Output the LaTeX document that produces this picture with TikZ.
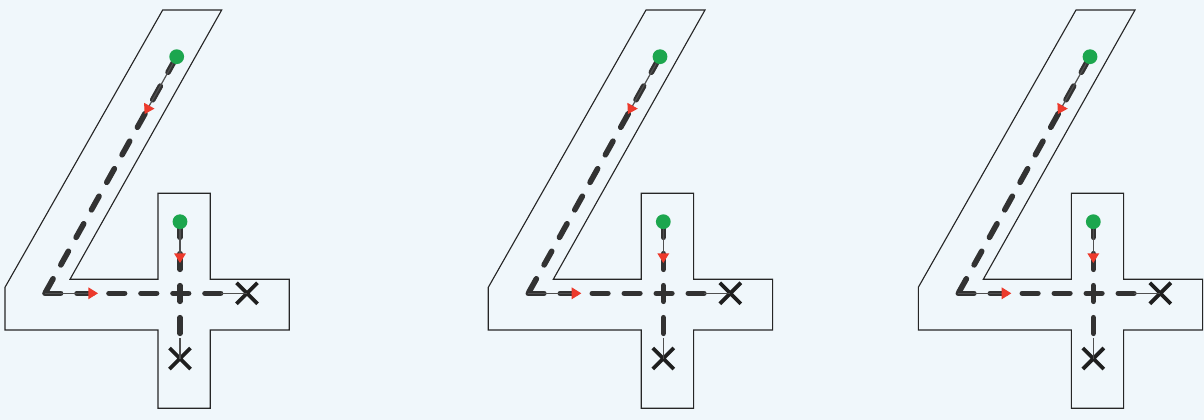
\documentclass[tikz,border=0pt]{standalone}
\usetikzlibrary{arrows.meta,shapes.misc}
\definecolor{bg}{RGB}{240,247,251}
\definecolor{dotgreen}{RGB}{28,166,78}
\definecolor{tipred}{RGB}{236,58,44}
\definecolor{dashgray}{RGB}{50,50,50}
\definecolor{leadgray}{RGB}{80,80,80}
\begin{document}
\begin{tikzpicture}[x=0.25mm,y=-0.25mm,
  outline/.style={draw=black!85, line width=0.28mm, line join=miter},
  trace/.style={draw=dashgray, line width=1.4mm, line cap=round,
                dash pattern=on 3.9mm off 4.1mm},
  slanttrace/.style={trace, dash pattern=on 3.9mm off 3.975mm, dash phase=7.625mm},
  lead/.style={draw=leadgray, line width=0.3mm,
               -{Triangle[length=2.4mm,width=2.9mm,color=tipred]}},
  tail/.style={draw=leadgray, line width=0.3mm},
  startdot/.style={circle, fill=dotgreen, inner sep=0pt, minimum size=3.7mm},
  endmark/.style={cross out, draw=black!88, line width=0.95mm, inner sep=0pt,
                  minimum size=4.3mm}]
  % page
  \fill[bg] (0,0) rectangle (1204,420);
  \useasboundingbox (0,0) rectangle (1204,420);
  \foreach \off/\k in {0/a,483.3/b,913.3/c}{
    \begin{scope}[shift={(\off,0)}]
      % outline of the numeral
      \draw[outline] (162.7,10) -- (221.7,10) -- (70,279.3) -- (158,279.3)
        -- (158,193.3) -- (210.3,193.3) -- (210.3,279.3) -- (289.3,279.3)
        -- (289.3,330) -- (210.3,330) -- (210.3,408.3) -- (158,408.3)
        -- (158,330) -- (5,330) -- (5,287.3) -- cycle;
      % key points of the two strokes
      \coordinate (top\k)    at (176.7,56.7);
      \coordinate (corner\k) at (45,293.3);
      \coordinate (dtip\k)   at (144.6,114.1);
      \coordinate (htip\k)   at (98,293.3);
      \coordinate (hstop\k)  at (221,293.3);
      \coordinate (vtop\k)   at (180,221.7);
      \coordinate (vtip\k)   at (180,263);
      \coordinate (vstop\k)  at (180,338);
      % dashed tracing lines
      \draw[slanttrace] (corner\k) -- (top\k);
      \draw[trace] (corner\k) -- (hstop\k);
      \draw[trace] (vtop\k) -- (vstop\k);
      % start and end marks
      \node[startdot] (sdot1\k) at (top\k) {};
      \node[startdot] (sdot2\k) at (vtop\k) {};
      \node[endmark] (hx\k) at (247,293.3) {};
      \node[endmark] (vx\k) at (180,358.5) {};
      % direction arrows and run-outs
      \draw[lead] (sdot1\k) -- (dtip\k);
      \draw[lead] (corner\k) -- (htip\k);
      \draw[lead] (sdot2\k) -- (vtip\k);
      \draw[tail] (hstop\k) -- (hx\k.center);
      \draw[tail] (vstop\k) -- (vx\k.center);
    \end{scope}
  }
\end{tikzpicture}
\end{document}
